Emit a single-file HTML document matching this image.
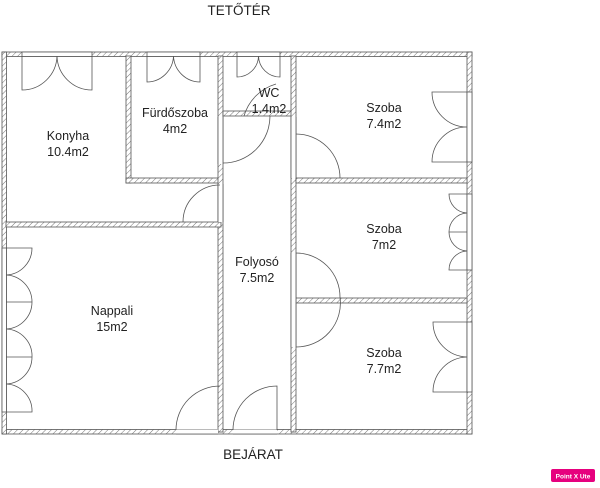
<!DOCTYPE html>
<html><head><style>body{margin:0;background:#fff}svg{display:block}text{font-family:"Liberation Sans",sans-serif;fill:#222}</style></head><body>
<svg width="600" height="488" viewBox="0 0 600 488" xmlns="http://www.w3.org/2000/svg">
<defs><pattern id="h" width="4" height="4" patternUnits="userSpaceOnUse" patternTransform="rotate(45)"><rect width="4" height="4" fill="#fff"/><line x1="0" y1="0" x2="0" y2="4" stroke="#777" stroke-width="1"/></pattern></defs>
<g fill="url(#h)" stroke="#555" stroke-width="0.8">
<rect x="2" y="52" width="470" height="4.5"/>
<rect x="2" y="429.5" width="470" height="4.5"/>
<rect x="2" y="52" width="4.5" height="382"/>
<rect x="467" y="52" width="5" height="382"/>
<rect x="126" y="56" width="5" height="127"/>
<rect x="126" y="178" width="95" height="5"/>
<rect x="218" y="56" width="5" height="376"/>
<rect x="223" y="111" width="69" height="5"/>
<rect x="291" y="56" width="5" height="376"/>
<rect x="6" y="222" width="215" height="5"/>
<rect x="296" y="178" width="171" height="5"/>
<rect x="296" y="298" width="171" height="5"/>
</g>
<g fill="#fff" stroke="#555" stroke-width="0.8">
<rect x="22" y="52" width="70" height="4.5"/>
<rect x="147" y="52" width="53" height="4.5"/>
<rect x="237" y="52" width="43" height="4.5"/>
<rect x="467" y="92" width="5" height="70"/>
<rect x="467" y="194" width="5" height="76"/>
<rect x="467" y="322" width="5" height="70"/>
<rect x="2" y="248" width="4.5" height="164"/>
<rect x="218" y="117" width="5" height="47" stroke="none"/>
<rect x="218" y="184" width="5" height="38" stroke="none"/>
<rect x="291" y="117" width="5" height="61" stroke="none"/>
<rect x="291" y="253" width="5" height="94" stroke="none"/>
<rect x="176" y="429.5" width="42" height="4.5" stroke="none"/>
<rect x="233" y="429.5" width="44" height="4.5" stroke="none"/>
</g>
<g fill="none" stroke="#555" stroke-width="0.8">
<line x1="218" y1="117" x2="218" y2="164"/><line x1="223" y1="117" x2="223" y2="164"/>
<line x1="218" y1="184" x2="218" y2="222"/><line x1="223" y1="184" x2="223" y2="222"/>
<line x1="291" y1="117" x2="291" y2="178"/><line x1="296" y1="117" x2="296" y2="178"/>
<line x1="291" y1="253" x2="291" y2="347"/><line x1="296" y1="253" x2="296" y2="347"/>
<line x1="176" y1="434" x2="218" y2="434"/><line x1="233" y1="434" x2="277" y2="434"/>
<path d="M22 56V90A35 35 0 0 0 57 56M92 56V90A35 35 0 0 1 57 56"/>
<path d="M147 56V82A27 27 0 0 0 173.5 56M200 56V82A27 27 0 0 1 173.5 56"/>
<path d="M237 56V77A21.5 21.5 0 0 0 258.5 56M280 56V77A21.5 21.5 0 0 1 258.5 56"/>
<path d="M276 84A47 47 0 0 0 244 116"/>
<path d="M270 116A47 47 0 0 1 223 163"/>
<path d="M183 222A37 37 0 0 1 220 185"/>
<path d="M296 134A44 44 0 0 1 340 178"/>
<path d="M296 253A44 44 0 0 1 340 297A44 44 0 0 1 296 347"/>
<path d="M176 430A44 44 0 0 1 220 386"/>
<path d="M233 430A44 44 0 0 1 277 386V430"/>
<path d="M467 92H432A35 35 0 0 0 467 127M467 162H432A35 35 0 0 1 467 127"/>
<path d="M467 194H449A19 19 0 0 0 467 213M467 232H449A19 19 0 0 1 467 213M467 232H449A19 19 0 0 0 467 251M467 270H449A19 19 0 0 1 467 251"/>
<path d="M467 322H433A35 35 0 0 0 467 357M467 392H433A35 35 0 0 1 467 357"/>
<path d="M6 248H32A27 27 0 0 1 6 275M6 302H32A27 27 0 0 0 6 275M6 302H32A27 27 0 0 1 6 329M6 357H32A27 27 0 0 0 6 329M6 357H32A27 27 0 0 1 6 384M6 412H32A27 27 0 0 0 6 384"/>
</g>
<g font-size="12.5" text-anchor="middle">
<text x="239" y="15" font-size="13.5">TETŐTÉR</text>
<text x="253" y="459" font-size="13.5">BEJÁRAT</text>
<text x="68" y="140">Konyha</text><text x="68" y="156">10.4m2</text>
<text x="175" y="117">Fürdőszoba</text><text x="175" y="133">4m2</text>
<text x="269" y="97">WC</text><text x="269" y="113">1.4m2</text>
<text x="384" y="112">Szoba</text><text x="384" y="128">7.4m2</text>
<text x="384" y="233">Szoba</text><text x="384" y="249">7m2</text>
<text x="257" y="266">Folyosó</text><text x="257" y="282">7.5m2</text>
<text x="112" y="315">Nappali</text><text x="112" y="331">15m2</text>
<text x="384" y="357">Szoba</text><text x="384" y="373">7.7m2</text>
</g>
<rect x="551" y="469" width="44" height="13" rx="2" fill="#e6007e"/>
<text x="573" y="478.5" font-size="6.5" font-weight="bold" text-anchor="middle" style="fill:#fff">Point X Ute</text>
</svg>
</body></html>
